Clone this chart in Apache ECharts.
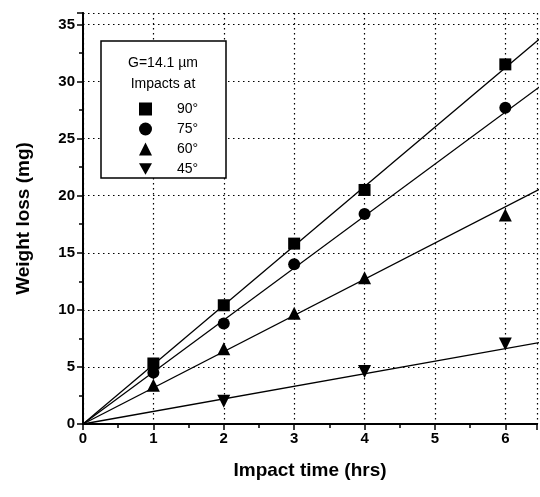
<!DOCTYPE html>
<html><head><meta charset="utf-8">
<script src="https://cdn.jsdelivr.net/npm/echarts@6/dist/echarts.min.js"></script>
<style>html,body{margin:0;padding:0;background:#fff}#c{width:540px;height:497px}</style>
</head><body><div id="c"></div>
<script>
// Data
var names = ['90°', '75°', '60°', '45°'];
var x90 = [1, 2, 3, 4, 6], y90 = [5.3, 10.4, 15.8, 20.5, 31.5];
var x75 = [1, 2, 3, 4, 6], y75 = [4.5, 8.8, 14.0, 18.4, 27.7];
var x60 = [1, 2, 3, 4, 6], y60 = [3.4, 6.6, 9.7, 12.8, 18.3];
var x45 = [2, 4, 6], y45 = [2.0, 4.6, 7.0];
var fitX = [0, 6.5];
var fit90 = [0, 33.8], fit75 = [0, 29.6], fit60 = [0, 20.6], fit45 = [0, 7.15];
var xTicks = [0, 1, 2, 3, 4, 5, 6];
var yTicks = [0, 5, 10, 15, 20, 25, 30, 35];

function pts(xs, ys) { return xs.map(function (x, i) { return [x, ys[i]]; }); }
var font = '"Liberation Sans", Arial, sans-serif';
var invTri = 'path://M0,0 L10,0 L5,9 Z';
var symbols = ['rect', 'circle', 'triangle', invTri];
var sizes = [12, 12, 13, 13];
var xs = [x90, x75, x60, x45], ys = [y90, y75, y60, y45];
var fits = [fit90, fit75, fit60, fit45];

var series = [];
fits.forEach(function (f) {
  series.push({ type: 'line', data: pts(fitX, f), symbol: 'none', silent: true,
    lineStyle: { color: '#000', width: 1.3 }, z: 3 });
});
names.forEach(function (n, i) {
  series.push({ name: n, type: 'scatter', data: pts(xs[i], ys[i]), symbol: symbols[i],
    symbolSize: sizes[i], itemStyle: { color: '#000', opacity: 1 }, z: 4 });
});

var chart = echarts.init(document.getElementById('c'), null, { renderer: 'canvas' });
var axisLabel = { color: '#000', fontFamily: font, fontSize: 15, fontWeight: 'bold' };
chart.setOption({
  animation: false,
  backgroundColor: '#fff',
  grid: { left: 83, right: 0, top: 13, bottom: 73 },
  xAxis: [{
    type: 'value', min: 0, max: 6.45, interval: 1,
    axisLine: { show: true, onZero: false, lineStyle: { color: '#000', width: 2 } },
    axisTick: { show: true, inside: false, length: 6, lineStyle: { color: '#000', width: 1.5 } },
    minorTick: { show: true, splitNumber: 2, length: 4, lineStyle: { color: '#000', width: 1.5 } },
    axisLabel: Object.assign({ margin: 7, formatter: function (v) { return xTicks.indexOf(v) >= 0 ? v : ''; } }, axisLabel),
    splitLine: { show: true, lineStyle: { color: '#000', type: [1.5, 3.5], width: 1.2 } },
    name: 'Impact time (hrs)', nameLocation: 'middle', nameGap: 37,
    nameTextStyle: { color: '#000', fontFamily: font, fontSize: 19, fontWeight: 'bold' }
  }, {
    type: 'value', position: 'top', min: 0, max: 6.45, interval: 1,
    axisLine: { show: true, lineStyle: { color: '#000', width: 2 } },
    axisTick: { show: true, inside: true, length: 6, lineStyle: { color: '#000', width: 1.5 } },
    minorTick: { show: true, splitNumber: 2, length: 4, lineStyle: { color: '#000', width: 1.5 } },
    axisLabel: { show: false }, splitLine: { show: false }
  }],
  yAxis: [{
    type: 'value', min: 0, max: 36, interval: 5,
    axisLine: { show: true, onZero: false, lineStyle: { color: '#000', width: 2 } },
    axisTick: { show: true, inside: false, length: 6, lineStyle: { color: '#000', width: 1.5 } },
    minorTick: { show: true, splitNumber: 2, length: 4, lineStyle: { color: '#000', width: 1.5 } },
    axisLabel: Object.assign({ margin: 8, formatter: function (v) { return yTicks.indexOf(v) >= 0 ? v : ''; } }, axisLabel),
    splitLine: { show: true, lineStyle: { color: '#000', type: [1.5, 3.5], width: 1.2 } },
    name: 'Weight loss (mg)', nameLocation: 'middle', nameGap: 50,
    nameTextStyle: { color: '#000', fontFamily: font, fontSize: 19, fontWeight: 'bold' }
  }, {
    type: 'value', position: 'right', min: 0, max: 36, interval: 5,
    axisLine: { show: true, lineStyle: { color: '#000', width: 2 } },
    axisTick: { show: true, inside: true, length: 6, lineStyle: { color: '#000', width: 1.5 } },
    minorTick: { show: true, splitNumber: 2, length: 4, lineStyle: { color: '#000', width: 1.5 } },
    axisLabel: { show: false }, splitLine: { show: false }
  }],
  graphic: [
    { type: 'rect', z: 10, shape: { x: 101, y: 41, width: 125, height: 137 },
      style: { fill: '#fff', stroke: '#000', lineWidth: 1.5 } },
    { type: 'text', z: 11, style: { x: 163, y: 63, text: 'G=14.1 µm', align: 'center', verticalAlign: 'middle',
      font: '14px "Liberation Sans", Arial, sans-serif', fill: '#000' } },
    { type: 'text', z: 11, style: { x: 163, y: 84, text: 'Impacts at', align: 'center', verticalAlign: 'middle',
      font: '14px "Liberation Sans", Arial, sans-serif', fill: '#000' } }
  ],
  legend: {
    z: 20, orient: 'vertical', left: 134, top: 97, itemWidth: 13, itemHeight: 13, itemGap: 6,
    data: names, selectedMode: false,
    itemStyle: { opacity: 1 },
    textStyle: { color: '#000', fontFamily: font, fontSize: 14, padding: [0, 0, 0, 20] }
  },
  series: series
});
</script></body></html>
